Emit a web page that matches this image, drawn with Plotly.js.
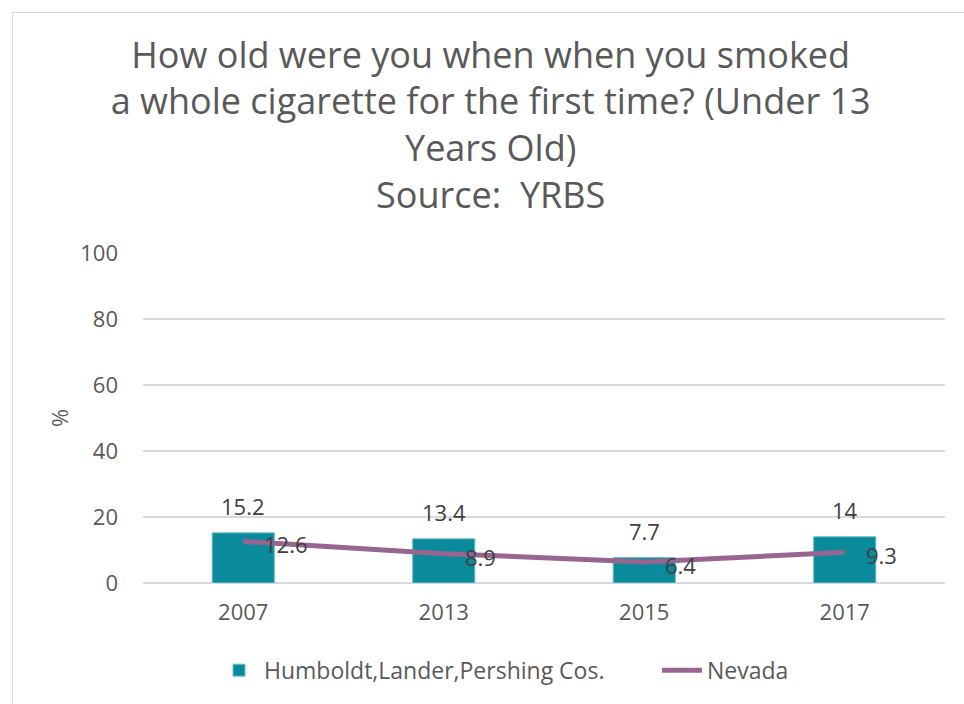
<!DOCTYPE html>
<html>
<head>
<meta charset="utf-8">
<script src="https://cdn.plot.ly/plotly-3.0.1.min.js"></script>
<style>
body{margin:0;padding:0;background:#fff;}
#wrap{position:relative;width:964px;height:704px;}
#chart{position:absolute;left:0;top:0;width:964px;height:704px;}
#frame{position:absolute;left:12px;top:12px;width:960px;height:700px;border:1px solid #d9d9d9;pointer-events:none;box-sizing:border-box;}
</style>
</head>
<body>
<div id="wrap"><div id="chart"></div><div id="frame"></div></div>
<script>
const years = ['2007', '2013', '2015', '2017'];
const countyValues = [15.2, 13.4, 7.7, 14];
const nevadaValues = [12.6, 8.9, 6.4, 9.3];
const yTicks = [0, 20, 40, 60, 80, 100];

const FONT = 'Open Sans, Noto Sans, sans-serif';
const textGray = '#595959';
const labelGray = '#404040';

const traces = [
  {
    type: 'bar',
    name: 'Humboldt,Lander,Pershing Cos.',
    x: years,
    y: countyValues,
    width: 0.31,
    marker: {color: '#0b8a9c', line: {color: '#6cc3cc', width: 1}},
    legend: 'legend',
    hoverinfo: 'x+y'
  },
  {
    type: 'scatter',
    mode: 'lines',
    name: 'Nevada',
    x: years,
    y: nevadaValues,
    line: {color: '#97658f', width: 5},
    legend: 'legend2',
    hoverinfo: 'x+y'
  }
];

// On a category axis, annotations are placed by category index
const annotations = [];
years.forEach((yr, i) => {
  annotations.push({
    x: i, y: countyValues[i], xref: 'x', yref: 'y',
    text: String(countyValues[i]), showarrow: false,
    yanchor: 'bottom', xanchor: 'center', yshift: 10,
    font: {family: FONT, size: 22, color: labelGray}
  });
  annotations.push({
    x: i, y: nevadaValues[i], xref: 'x', yref: 'y',
    text: String(nevadaValues[i]), showarrow: false,
    yanchor: 'middle', xanchor: 'left', xshift: 19, yshift: -3,
    font: {family: FONT, size: 22, color: labelGray}
  });
});

const legendBase = {
  orientation: 'h', xanchor: 'left', xref: 'container',
  y: 0.048, yanchor: 'middle', yref: 'container',
  font: {family: FONT, size: 23, color: textGray},
  itemwidth: 40, bgcolor: 'rgba(0,0,0,0)'
};

const layout = {
  width: 964, height: 704,
  margin: {l: 143, r: 19, t: 253, b: 121},
  paper_bgcolor: 'rgba(0,0,0,0)',
  plot_bgcolor: '#ffffff',
  font: {family: FONT, color: textGray, size: 22},
  title: {
    text: 'How old were you when when you smoked<br>a whole cigarette for the first time? (Under 13<br>Years Old)<br>Source:  YRBS',
    x: 0.509, xanchor: 'center', xref: 'container',
    y: 0.904, yanchor: 'top', yref: 'container',
    font: {family: FONT, size: 36, color: textGray}
  },
  xaxis: {
    type: 'category',
    showgrid: false, zeroline: false, showline: false,
    ticks: '', tickfont: {family: FONT, size: 22, color: textGray},
    ticklabelstandoff: 14
  },
  yaxis: {
    range: [0, 100], tickvals: yTicks, ticktext: yTicks.map(String),
    showgrid: true, gridcolor: '#d9d9d9', gridwidth: 1.5,
    zeroline: true, zerolinecolor: '#d9d9d9', zerolinewidth: 1.5,
    showline: false, ticks: '',
    tickfont: {family: FONT, size: 22, color: textGray},
    ticklabelstandoff: 24,
    title: {text: '%', font: {family: FONT, size: 22, color: textGray}, standoff: 5}
  },
  legend: Object.assign({}, legendBase, {x: 0.222}),
  legend2: Object.assign({}, legendBase, {x: 0.6815}),
  annotations: annotations,
  showlegend: true,
  bargap: 0.69
};

Plotly.newPlot('chart', traces, layout, {displayModeBar: false, staticPlot: true});
</script>
</body>
</html>
